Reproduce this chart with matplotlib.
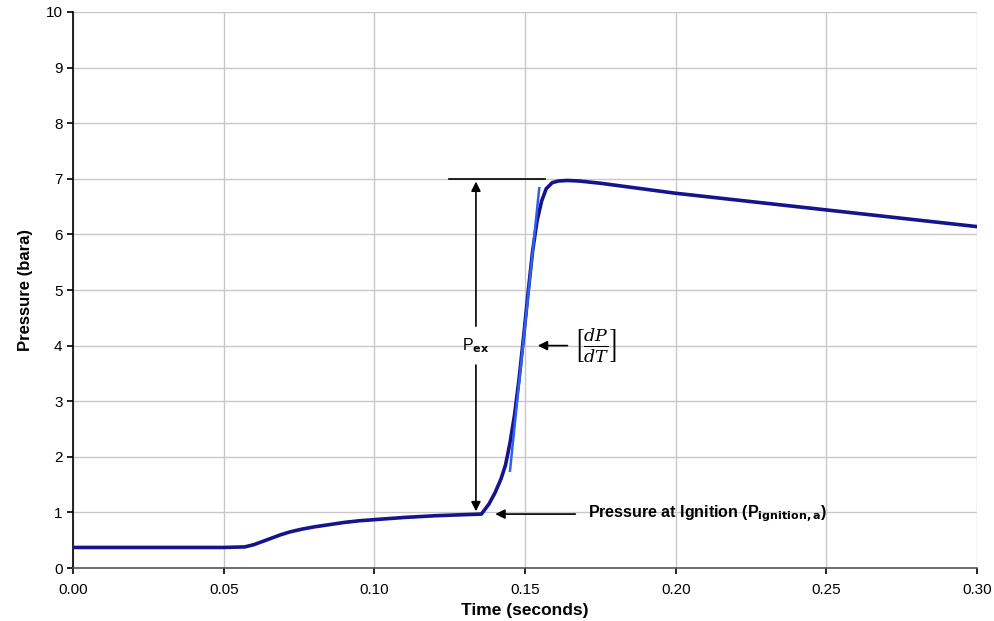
import numpy as np
import matplotlib
matplotlib.use("Agg")
from matplotlib import pyplot as plt

# pressure trace
time = [0.000, 0.010, 0.020, 0.030, 0.040, 0.050, 0.057, 0.060, 0.063, 0.066,
        0.069, 0.072, 0.076, 0.080, 0.085, 0.090, 0.095, 0.100, 0.110, 0.120,
        0.130, 0.1355, 0.138, 0.140, 0.142, 0.1435, 0.145, 0.1465, 0.148,
        0.1495, 0.151, 0.1525, 0.154, 0.1555, 0.157, 0.159, 0.161, 0.164,
        0.168, 0.175, 0.200, 0.250, 0.300]
pressure = [0.37, 0.37, 0.37, 0.37, 0.37, 0.37, 0.38, 0.42, 0.48, 0.54,
            0.60, 0.65, 0.70, 0.74, 0.78, 0.82, 0.85, 0.87, 0.91, 0.94,
            0.96, 0.97, 1.15, 1.35, 1.60, 1.85, 2.25, 2.75, 3.40,
            4.15, 4.95, 5.70, 6.25, 6.60, 6.82, 6.93, 6.96, 6.97,
            6.96, 6.92, 6.74, 6.44, 6.14]

tangent_t = [0.1450, 0.1547]
tangent_p = [1.75, 6.83]

t_ign, p_ign = 0.1355, 0.97
p_ex = 7.0

plt.rcParams['font.family'] = ['Liberation Sans', 'DejaVu Sans']

fig = plt.figure(figsize=(9.95, 6.21), dpi=100)
ax = fig.add_axes([0.0734, 0.0853, 0.9086, 0.8954])

ax.plot(time, pressure, color='#14148c', lw=2.6, solid_capstyle='round', zorder=3)
ax.plot(tangent_t, tangent_p, color='#2f5ff0', lw=1.8, zorder=4)

# P_ex double arrow
ax.plot([0.1248, 0.1567], [p_ex, p_ex], color='black', lw=1.2, zorder=2)
ax.annotate('', xy=(0.1337, p_ex), xytext=(0.1337, 4.3),
            arrowprops=dict(arrowstyle='-|>', color='black', lw=1.2, mutation_scale=14))
ax.annotate('', xy=(0.1337, p_ign), xytext=(0.1337, 3.7),
            arrowprops=dict(arrowstyle='-|>', color='black', lw=1.2, mutation_scale=14))
ax.text(0.1337, 4.0, r'P$_{\mathbf{ex}}$', ha='center', va='center', fontsize=11.5)

# dP/dT
ax.annotate('', xy=(0.1533, 4.0), xytext=(0.1650, 4.0),
            arrowprops=dict(arrowstyle='-|>', color='black', lw=1.2, mutation_scale=14))
ax.text(0.1658, 4.0, r'$\left[\frac{dP}{dT}\right]$', ha='left', va='center',
        fontsize=18, math_fontfamily='dejavuserif')

# pressure at ignition
ax.annotate('', xy=(0.1392, p_ign), xytext=(0.1676, p_ign),
            arrowprops=dict(arrowstyle='-|>', color='black', lw=1.2, mutation_scale=14))
ax.text(0.1710, p_ign, r'Pressure at Ignition (P$_{\mathbf{ignition,a}}$)',
        ha='left', va='center', fontsize=11.5, fontweight='bold')

ax.set_xlim(0, 0.30)
ax.set_ylim(0, 10)
xt = np.arange(0, 0.301, 0.05)
ax.set_xticks(xt)
ax.set_xticklabels([f'{v:.2f}' for v in xt])
ax.set_yticks(range(0, 11))
ax.grid(True, color='#c8c8c8', lw=1.0)
ax.set_axisbelow(True)
for s in ['top', 'right']:
    ax.spines[s].set_visible(False)
ax.spines['left'].set_color('black')
ax.spines['bottom'].set_color('#555555')
ax.spines['left'].set_linewidth(1.2)
ax.spines['bottom'].set_linewidth(1.2)
ax.tick_params(direction='out', length=4, labelsize=11, width=1.2)
ax.tick_params(axis='x', pad=7)

ax.set_xlabel('Time (seconds)', fontsize=12.5, fontweight='bold', labelpad=4)
ax.set_ylabel('Pressure (bara)', fontsize=12, fontweight='bold', labelpad=9)

fig.savefig('out.png', dpi=100)
